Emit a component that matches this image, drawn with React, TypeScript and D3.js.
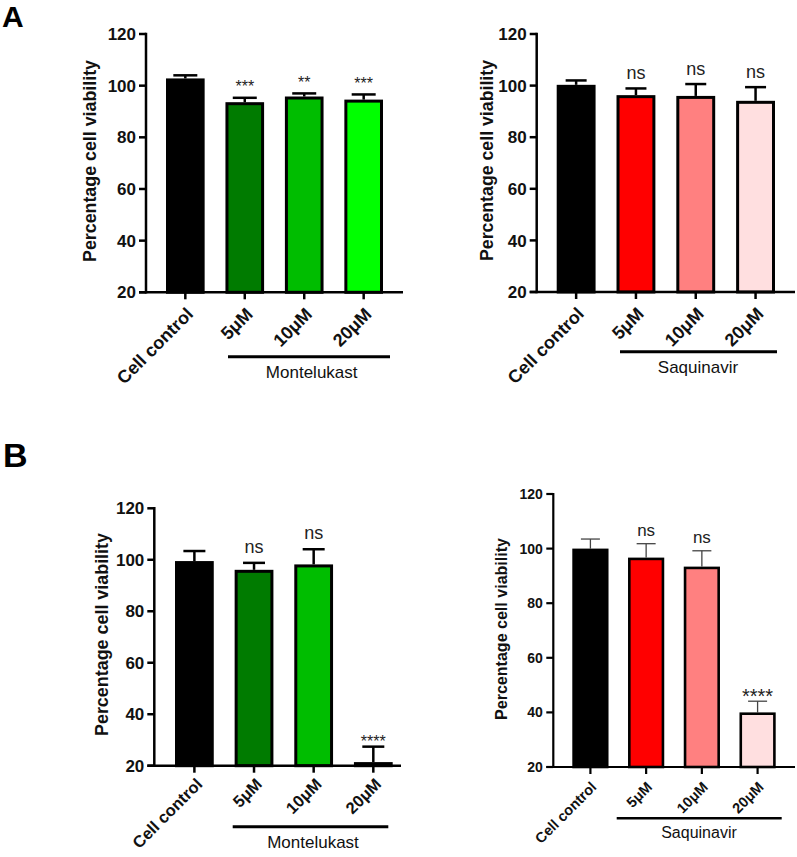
import React from "react";
import * as d3 from "d3";

// ---------- data ----------
const categories = ["Cell control", "5μM", "10μM", "20μM"];
const yTicks = [20, 40, 60, 80, 100, 120];

const montAMean = [102.8, 93.6, 95.8, 94.6];
const montAErr = [1.2, 1.7, 1.2, 2.0];
const montASig = ["", "***", "**", "***"];

const saqAMean = [100.3, 96.3, 96.0, 94.1];
const saqAErr = [1.7, 2.6, 4.6, 5.3];
const saqASig = ["", "ns", "ns", "ns"];

const montBMean = [99.5, 96.1, 98.2, 21.4];
const montBErr = [3.9, 2.7, 5.9, 6.0];
const montBSig = ["", "ns", "ns", "****"];

const saqBMean = [100.0, 96.7, 93.4, 40.0];
const saqBErr = [3.5, 5.1, 5.8, 4.1];
const saqBSig = ["", "ns", "ns", "****"];

const greenColors = ["#000000", "#007b00", "#00bd00", "#00ff00"];
const greenColorsB = ["#000000", "#007b00", "#00bd00", "#00c800"];
const redColors = ["#000000", "#ff0000", "#ff8080", "#ffdfe0"];

const yLabelText = "Percentage cell viability";
const FONT = "'Liberation Sans', Arial, Helvetica, sans-serif";

type Layout = {
  axisX: number; y20: number; y120: number; bandStart: number; bandEnd: number; xEnd: number;
  axisW: number; barStroke: number; errW: number; errColor: string; capW: number; tickLen: number;
  tickFont: number; tickGap: number;
  yLabelX: number; yLabelCY: number; yLabelLen: number; yLabelFont: number;
  catFont: number; catDx: number; catDy: number;
  groupY: number; groupX1: number; groupX2: number; groupW: number; groupLabelX: number; groupLabelY: number; groupFont: number;
  nsFont: number; nsGap: number; astFont: number; astGap: number; annColor: string;
};

function Panel({ L, means, errs, sigs, colors, group }: { L: Layout; means: number[]; errs: number[]; sigs: string[]; colors: string[]; group: string }) {
  const y = d3.scaleLinear().domain([20, 120]).range([L.y20, L.y120]);
  const x = d3.scaleBand<string>().domain(categories).range([L.bandStart, L.bandEnd]).paddingInner(0.35).paddingOuter(0);
  const bw = x.bandwidth();
  const s = L.barStroke;
  return (
    <g>
      {categories.map((c, i) => {
        const x0 = x(c)!;
        const top = y(means[i]);
        const cx = x0 + bw / 2;
        const capY = y(means[i] + errs[i]);
        return (
          <g key={c}>
            <line x1={cx} x2={cx} y1={top} y2={capY} stroke={L.errColor} strokeWidth={L.errW} />
            <line x1={cx - L.capW / 2} x2={cx + L.capW / 2} y1={capY} y2={capY} stroke={L.errColor} strokeWidth={L.errW} />
            <rect x={x0 + s / 2} y={top + s / 2} width={bw - s} height={Math.max(0, L.y20 - top - s / 2)} fill={colors[i]} stroke="#000" strokeWidth={s} />
            {sigs[i] ? (
              <text x={cx} y={sigs[i] === "ns" ? capY - L.nsGap : capY - L.astGap} textAnchor="middle"
                fontFamily={FONT} fontSize={sigs[i] === "ns" ? L.nsFont : L.astFont} fill={L.annColor}>{sigs[i]}</text>
            ) : null}
          </g>
        );
      })}
      <line x1={L.axisX} x2={L.axisX} y1={L.y20 + L.axisW / 2} y2={L.y120 - L.axisW / 2} stroke="#000" strokeWidth={L.axisW} />
      {yTicks.map((t) => (
        <g key={t}>
          <line x1={L.axisX - L.tickLen} x2={L.axisX} y1={y(t)} y2={y(t)} stroke="#000" strokeWidth={L.axisW} />
          <text x={L.axisX - L.tickGap} y={y(t)} dy="0.36em" textAnchor="end" fontFamily={FONT} fontWeight="bold" fontSize={L.tickFont} fill="#111">{t}</text>
        </g>
      ))}
      <line x1={L.axisX - L.tickLen} x2={L.xEnd} y1={L.y20} y2={L.y20} stroke="#000" strokeWidth={L.axisW} />
      {categories.map((c) => {
        const cx = x(c)! + bw / 2;
        return (
          <g key={"t" + c}>
            <line x1={cx} x2={cx} y1={L.y20} y2={L.y20 + L.tickLen} stroke="#000" strokeWidth={L.axisW} />
            <text transform={`translate(${cx + L.catDx},${L.y20 + L.catDy}) rotate(-45)`} textAnchor="end"
              fontFamily={FONT} fontWeight="bold" fontSize={L.catFont} fill="#111">{c}</text>
          </g>
        );
      })}
      <text transform={`translate(${L.yLabelX},${L.yLabelCY}) rotate(-90)`} textAnchor="middle" fontFamily={FONT}
        fontWeight="bold" fontSize={L.yLabelFont} textLength={L.yLabelLen} lengthAdjust="spacingAndGlyphs" fill="#111">{yLabelText}</text>
      <line x1={L.groupX1} x2={L.groupX2} y1={L.groupY} y2={L.groupY} stroke="#000" strokeWidth={L.groupW} />
      <text x={L.groupLabelX} y={L.groupLabelY} textAnchor="middle" fontFamily={FONT} fontSize={L.groupFont} fill="#111">{group}</text>
    </g>
  );
}

const baseA = {
  axisW: 2.5, barStroke: 3, errW: 2.5, errColor: "#000", tickLen: 7,
  tickFont: 17, tickGap: 10, yLabelFont: 18, catFont: 18, catDx: 9, catDy: 23, groupW: 3, groupFont: 17,
  nsFont: 18, nsGap: 9, astFont: 16, astGap: 5.5, annColor: "#222",
};

const layoutAL: Layout = {
  ...baseA, axisX: 146, y20: 292.3, y120: 34, bandStart: 166, bandEnd: 383, xEnd: 403, capW: 24,
  yLabelX: 96, yLabelCY: 161, yLabelLen: 202,
  groupY: 356.7, groupX1: 228, groupX2: 390, groupLabelX: 311.7, groupLabelY: 378,
};
const layoutAR: Layout = {
  ...baseA, axisX: 536.7, y20: 292, y120: 34, bandStart: 556.7, bandEnd: 775, xEnd: 795, capW: 21,
  yLabelX: 493, yLabelCY: 160.5, yLabelLen: 201,
  groupY: 351.7, groupX1: 620, groupX2: 777, groupLabelX: 698, groupLabelY: 373,
};
const layoutBL: Layout = {
  ...baseA, axisX: 154.3, y20: 765.7, y120: 508.3, bandStart: 175, bandEnd: 392.7, xEnd: 401, capW: 22,
  yLabelX: 108, yLabelCY: 634.5, yLabelLen: 203, nsGap: 10, astGap: 0, catFont: 16.5, catDx: 9, catDy: 19.5,
  groupY: 826.7, groupX1: 232.7, groupX2: 388.3, groupLabelX: 313, groupLabelY: 848.3,
};
const layoutBR: Layout = {
  ...baseA, axisX: 553.3, y20: 767, y120: 494, bandStart: 572.3, bandEnd: 775.7, xEnd: 795, capW: 19,
  errW: 1.3, errColor: "#444", barStroke: 2.6, axisW: 2.2,
  tickFont: 14, tickGap: 10.5, yLabelFont: 16, catFont: 14.5, catDx: 7, catDy: 21,
  yLabelX: 506.5, yLabelCY: 629, yLabelLen: 182,
  groupY: 818.3, groupX1: 616.7, groupX2: 781.7, groupW: 2.5, groupLabelX: 699, groupLabelY: 838, groupFont: 16,
  nsFont: 17, nsGap: 7.5, astFont: 20, astGap: -2,
};

export default function App() {
  return (
    <svg width={797} height={857} style={{ position: "absolute", left: 0, top: 0, display: "block", background: "#fff" }}>
      <rect x={0} y={0} width={797} height={857} fill="#fff" />
      <text x={2} y={27} fontFamily={FONT} fontWeight="bold" fontSize={30}>A</text>
      <text x={3} y={467} fontFamily={FONT} fontWeight="bold" fontSize={34}>B</text>
      <Panel L={layoutAL} means={montAMean} errs={montAErr} sigs={montASig} colors={greenColors} group="Montelukast" />
      <Panel L={layoutAR} means={saqAMean} errs={saqAErr} sigs={saqASig} colors={redColors} group="Saquinavir" />
      <Panel L={layoutBL} means={montBMean} errs={montBErr} sigs={montBSig} colors={greenColorsB} group="Montelukast" />
      <Panel L={layoutBR} means={saqBMean} errs={saqBErr} sigs={saqBSig} colors={redColors} group="Saquinavir" />
    </svg>
  );
}
